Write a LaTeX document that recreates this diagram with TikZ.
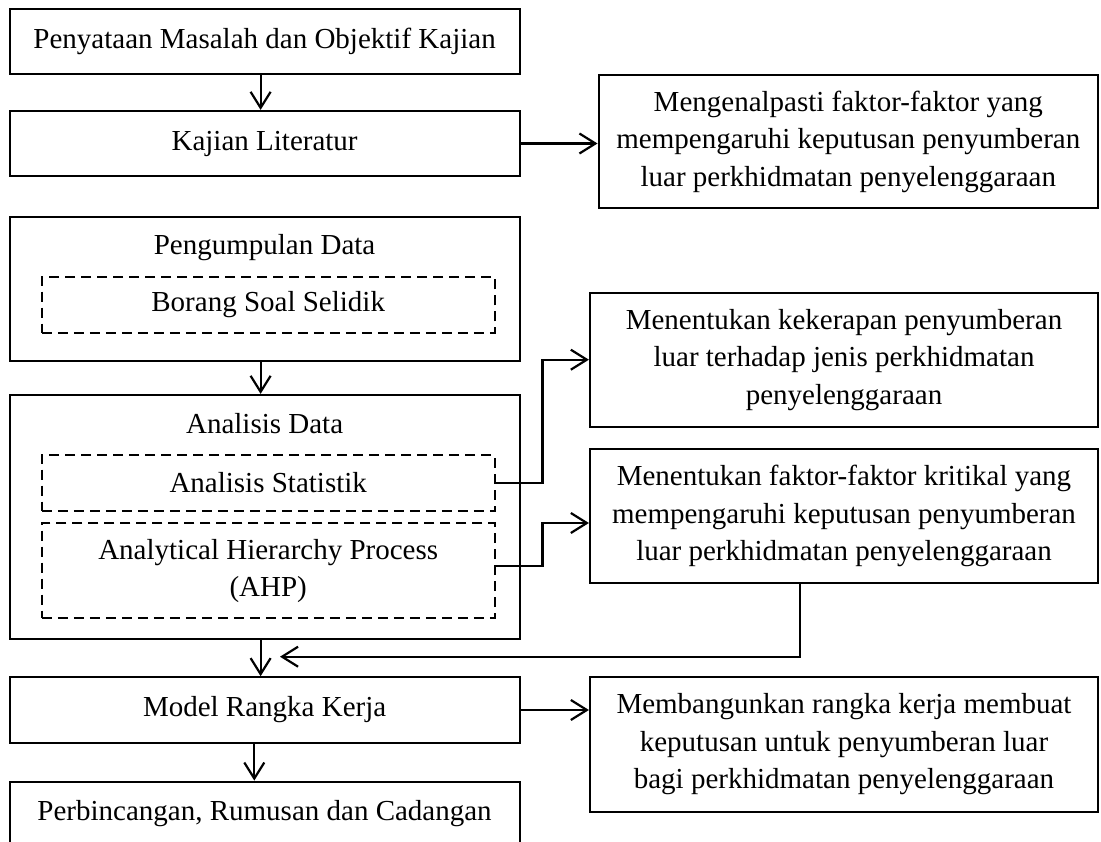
\documentclass[tikz,border=0pt]{standalone}
\usepackage{fontspec}
\setmainfont{Liberation Serif}
\usetikzlibrary{arrows.meta,calc}
\newcommand\myfs{\fontsize{29pt}{37.5pt}\selectfont}
\begin{document}
\begin{tikzpicture}[x=1pt,y=-1pt,
  every node/.style={font=\myfs},
  box/.style={draw, line width=2.2pt, inner sep=0pt, align=center},
  dbox/.style={draw, line width=1.8pt, dash pattern=on 10pt off 6pt, inner sep=0pt, align=center},
  lbl/.style={inner sep=0pt, anchor=base},
  arr/.style={line width=2.2pt, -{Straight Barb[length=16pt,width=20pt]}}]
\useasboundingbox (0,0) rectangle (1101,842);
% left column
\node[box, minimum width=510pt, minimum height=65pt] (b1) at (264.6,41.5) {Penyataan Masalah dan Objektif Kajian};
\node[box, minimum width=510pt, minimum height=65pt] (b2) at (264.6,143.5) {Kajian Literatur};
\node[box, minimum width=510pt, minimum height=144.3pt] (b3) at (264.6,288.85) {};
\node[lbl] (t3) at (264.6,255) {Pengumpulan Data};
\node[dbox, minimum width=452.8pt, minimum height=55.7pt] (d1) at (268.2,304.85) {Borang Soal Selidik};
\node[box, minimum width=510pt, minimum height=244pt] (b4) at (264.6,517) {};
\node[lbl] (t4) at (264.6,433) {Analisis Data};
\node[dbox, minimum width=452.8pt, minimum height=55.7pt] (d2) at (268.2,482.85) {Analisis Statistik};
\node[dbox, minimum width=452.8pt, minimum height=95pt] (d3) at (268.2,570.8) {Analytical Hierarchy Process\\(AHP)};
\node[box, minimum width=510pt, minimum height=65.4pt] (b5) at (264.6,710) {Model Rangka Kerja};
\node[box, minimum width=510pt, minimum height=64pt] (b6) at (264.6,813.7) {Perbincangan, Rumusan dan Cadangan};
% right column
\node[box, minimum width=499.4pt, minimum height=133pt] (r1) at (848.3,141.5) {Mengenalpasti faktor-faktor yang\\mempengaruhi keputusan penyumberan\\luar perkhidmatan penyelenggaraan};
\node[box, minimum width=508pt, minimum height=134pt] (r2) at (844,359.7) {Menentukan kekerapan penyumberan\\luar terhadap jenis perkhidmatan\\penyelenggaraan};
\node[box, minimum width=508pt, minimum height=133.4pt] (r3) at (844,516) {Menentukan faktor-faktor kritikal yang\\mempengaruhi keputusan penyumberan\\luar perkhidmatan penyelenggaraan};
\node[box, minimum width=508pt, minimum height=135pt] (r4) at (844,744.2) {Membangunkan rangka kerja membuat\\keputusan untuk penyumberan luar\\bagi perkhidmatan penyelenggaraan};
% connectors
\draw[arr] ([xshift=-4pt]b1.south) -- ([xshift=-4pt]b2.north);
\draw[arr] (b2.east) -- (b2.east -| r1.west);
\draw[arr] ([xshift=-4pt]b3.south) -- ([xshift=-4pt]b4.north);
\draw[arr] (d2.east) -- ++(47,0) |- (r2.west);
\draw[arr] ([yshift=5pt]d3.east) -- ++(47,0) |- ([yshift=-7pt]r3.west);
\coordinate (fb) at (280,656.7);
\draw[arr] ([xshift=-44pt]r3.south) |- (fb);
\draw[arr] ([xshift=-4pt]b4.south) -- ([xshift=-4pt]b5.north);
\draw[arr] (b5.east) -- (b5.east -| r4.west);
\draw[arr] ([xshift=-10.3pt]b5.south) -- ([xshift=-10.3pt]b6.north);
\end{tikzpicture}
\end{document}
